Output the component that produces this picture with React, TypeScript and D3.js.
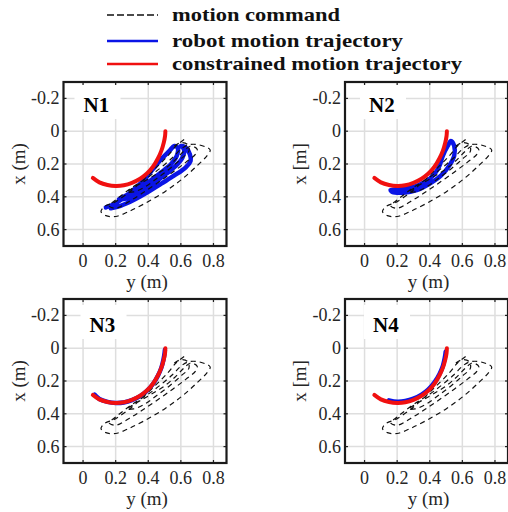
import React, { useEffect, useRef } from 'react';
import * as d3 from 'd3';

// points are [y (m), x (m)] : y runs horizontally, x runs downwards
const commandPath = [
  [0.62, 0.05], [0.57, 0.09], [0.52, 0.15], [0.43, 0.24], [0.31, 0.35], [0.2, 0.43], [0.13, 0.46], [0.11, 0.49],
  [0.14, 0.515], [0.2, 0.52], [0.28, 0.49], [0.38, 0.44], [0.5, 0.37], [0.61, 0.29], [0.7, 0.21], [0.76, 0.15],
  [0.78, 0.115], [0.75, 0.095], [0.69, 0.08], [0.64, 0.085], [0.6, 0.11], [0.55, 0.16], [0.48, 0.22], [0.4, 0.28],
  [0.32, 0.33], [0.25, 0.38], [0.2, 0.42], [0.16, 0.455], [0.2, 0.47], [0.28, 0.43], [0.36, 0.38], [0.45, 0.32],
  [0.55, 0.25], [0.63, 0.19], [0.69, 0.14], [0.7, 0.11], [0.66, 0.09], [0.62, 0.12], [0.56, 0.18], [0.5, 0.23],
  [0.42, 0.28], [0.35, 0.32], [0.3, 0.35], [0.27, 0.37], [0.31, 0.37], [0.38, 0.34], [0.45, 0.29], [0.53, 0.23],
  [0.6, 0.17], [0.65, 0.12], [0.64, 0.08], [0.6, 0.07], [0.56, 0.09]
];

const constrainedPath = [
  [0.06, 0.285], [0.1, 0.312], [0.15, 0.328], [0.2, 0.334], [0.25, 0.33], [0.3, 0.315], [0.35, 0.29], [0.39, 0.26],
  [0.43, 0.215], [0.46, 0.165], [0.48, 0.12], [0.495, 0.07], [0.503, 0.03], [0.505, 0.0]
];

const robotN1 = [
  [0.14, 0.465], [0.2, 0.44], [0.27, 0.39], [0.33, 0.34], [0.38, 0.29], [0.43, 0.23], [0.48, 0.17], [0.53, 0.12],
  [0.56, 0.09], [0.58, 0.1], [0.575, 0.15], [0.54, 0.2], [0.48, 0.25], [0.4, 0.31], [0.32, 0.36], [0.25, 0.4],
  [0.22, 0.415], [0.27, 0.41], [0.35, 0.37], [0.43, 0.32], [0.51, 0.26], [0.57, 0.21], [0.61, 0.16], [0.62, 0.11],
  [0.6, 0.09], [0.63, 0.1], [0.655, 0.14], [0.66, 0.18], [0.63, 0.22], [0.56, 0.27], [0.48, 0.32], [0.4, 0.37],
  [0.31, 0.42], [0.23, 0.455], [0.17, 0.47]
];

const robotN2 = [
  [0.16, 0.36], [0.22, 0.35], [0.3, 0.34], [0.37, 0.31], [0.43, 0.26], [0.46, 0.21], [0.48, 0.15], [0.51, 0.09],
  [0.53, 0.06], [0.55, 0.09], [0.55, 0.15], [0.52, 0.21], [0.47, 0.27], [0.4, 0.32], [0.32, 0.36], [0.24, 0.375],
  [0.17, 0.37], [0.16, 0.36]
];

const robotN3 = [
  [0.07, 0.283], [0.1, 0.31], [0.15, 0.327], [0.2, 0.334], [0.25, 0.331], [0.3, 0.317], [0.35, 0.292], [0.39, 0.262],
  [0.43, 0.217], [0.46, 0.166], [0.48, 0.12], [0.493, 0.07], [0.5, 0.03], [0.502, 0.01]
];

const robotN4 = [
  [0.15, 0.318], [0.2, 0.326], [0.25, 0.322], [0.3, 0.308], [0.35, 0.283], [0.39, 0.253], [0.43, 0.207], [0.46, 0.157],
  [0.48, 0.11], [0.492, 0.06], [0.498, 0.02]
];

const panelNames = ['N1', 'N2', 'N3', 'N4'];
const robotPaths = [robotN1, robotN2, robotN3, robotN4];
const xAxisLabels = ['y (m)', 'y (m)', 'y (m)', 'y (m)'];
const yAxisLabels = ['x (m)', 'x [m]', 'x (m)', 'x [m]'];

const yTicks = [0, 0.2, 0.4, 0.6, 0.8];
const xTicks = [-0.2, 0, 0.2, 0.4, 0.6];

const legendLabels = ['motion command', 'robot motion trajectory', 'constrained motion trajectory'];

const FONT = "'Liberation Serif', 'Times New Roman', serif";

const App = () => {
  const ref = useRef(null);

  useEffect(() => {
    const svg = d3.select(ref.current);
    svg.selectAll('*').remove();

    const W = 163, H = 164;
    const spots = [[63.5, 82], [345, 82], [63.5, 299], [345, 299]];
    const nameSpots = [[20, 30], [24, 30], [26, 33], [28, 33]];

    spots.forEach(([left, top], i) => {
      const sx = d3.scaleLinear().domain([-0.12, 0.88]).range([0, W]);
      const sy = d3.scaleLinear().domain([-0.3, 0.7]).range([0, H]);
      const g = svg.append('g').attr('transform', 'translate(' + left + ',' + top + ')');

      svg.append('clipPath').attr('id', 'clip-' + i)
        .append('rect').attr('x', 0).attr('y', 0).attr('width', W).attr('height', H);

      // grid
      g.selectAll('.vgrid').data(yTicks).enter().append('line')
        .attr('x1', d => sx(d)).attr('x2', d => sx(d)).attr('y1', 0).attr('y2', H)
        .attr('stroke', '#dedede').attr('stroke-width', 1.5);
      g.selectAll('.hgrid').data(xTicks).enter().append('line')
        .attr('y1', d => sy(d)).attr('y2', d => sy(d)).attr('x1', 0).attr('x2', W)
        .attr('stroke', '#dedede').attr('stroke-width', 1.5);

      const line = d3.line().x(d => sx(d[0])).y(d => sy(d[1])).curve(d3.curveCatmullRom.alpha(0.5));
      const plot = g.append('g').attr('clip-path', 'url(#clip-' + i + ')');

      plot.append('path').datum(robotPaths[i]).attr('d', line)
        .attr('fill', 'none').attr('stroke', '#0a14e6').attr('stroke-width', 4.5)
        .attr('stroke-linejoin', 'round').attr('stroke-linecap', 'round');
      plot.append('path').datum(commandPath).attr('d', line)
        .attr('fill', 'none').attr('stroke', '#111').attr('stroke-width', 1.2)
        .attr('stroke-dasharray', '5,4');
      plot.append('path').datum(constrainedPath).attr('d', line)
        .attr('fill', 'none').attr('stroke', '#f01010').attr('stroke-width', 4)
        .attr('stroke-linecap', 'round');

      // panel name with white box
      const [nx, ny] = nameSpots[i];
      g.append('rect').attr('x', nx - 9).attr('y', ny - 27).attr('width', 46).attr('height', 34)
        .attr('fill', 'white');
      g.append('text').attr('x', nx).attr('y', ny)
        .attr('font-family', FONT).attr('font-size', 21).attr('font-weight', 'bold')
        .text(panelNames[i]);

      // ticks (inside, all sides)
      yTicks.forEach(t => {
        g.append('line').attr('x1', sx(t)).attr('x2', sx(t)).attr('y1', H).attr('y2', H - 3).attr('stroke', '#222').attr('stroke-width', 1.2);
        g.append('line').attr('x1', sx(t)).attr('x2', sx(t)).attr('y1', 0).attr('y2', 3).attr('stroke', '#222').attr('stroke-width', 1.2);
      });
      xTicks.forEach(t => {
        g.append('line').attr('y1', sy(t)).attr('y2', sy(t)).attr('x1', 0).attr('x2', 3).attr('stroke', '#222').attr('stroke-width', 1.2);
        g.append('line').attr('y1', sy(t)).attr('y2', sy(t)).attr('x1', W).attr('x2', W - 3).attr('stroke', '#222').attr('stroke-width', 1.2);
      });

      g.append('rect').attr('x', 0).attr('y', 0).attr('width', W).attr('height', H)
        .attr('fill', 'none').attr('stroke', '#1a1a1a').attr('stroke-width', 2.2);

      // tick labels
      g.selectAll('.xl').data(yTicks).enter().append('text')
        .attr('x', d => sx(d)).attr('y', H + 21).attr('text-anchor', 'middle')
        .attr('font-family', FONT).attr('font-size', 18).attr('fill', '#262626')
        .text(d => String(d));
      g.selectAll('.yl').data(xTicks).enter().append('text')
        .attr('x', -4).attr('y', d => sy(d) + 6).attr('text-anchor', 'end')
        .attr('font-family', FONT).attr('font-size', 18).attr('fill', '#262626')
        .text(d => String(d));

      g.append('text').attr('x', W / 2 + 2).attr('y', H + 42).attr('text-anchor', 'middle')
        .attr('font-family', FONT).attr('font-size', 19).attr('fill', '#262626')
        .text(xAxisLabels[i]);
      g.append('text').attr('transform', 'translate(-39,' + (H / 2) + ') rotate(-90)')
        .attr('text-anchor', 'middle')
        .attr('font-family', FONT).attr('font-size', 19).attr('fill', '#262626')
        .text(yAxisLabels[i]);
    });

    // legend
    const legend = svg.append('g');
    const rows = [15, 41, 64];
    const widths = [168, 231, 290];
    legendLabels.forEach((lab, i) => {
      const ln = legend.append('line').attr('x1', 107).attr('x2', 158).attr('y1', rows[i]).attr('y2', rows[i]);
      if (i === 0) ln.attr('stroke', '#111').attr('stroke-width', 1.6).attr('stroke-dasharray', '7,3');
      else ln.attr('stroke', i === 1 ? '#0a14e6' : '#f01010').attr('stroke-width', 2.5);
      legend.append('text').attr('x', 172).attr('y', rows[i] + 6)
        .attr('textLength', widths[i]).attr('lengthAdjust', 'spacingAndGlyphs')
        .attr('font-family', FONT).attr('font-size', 19).attr('font-weight', 'bold').attr('fill', '#111')
        .text(lab);
    });
  }, []);

  return (
    <svg ref={ref} width={508} height={512}
      style={{ position: 'absolute', left: 0, top: 0, background: 'white' }} />
  );
};

export default App;
